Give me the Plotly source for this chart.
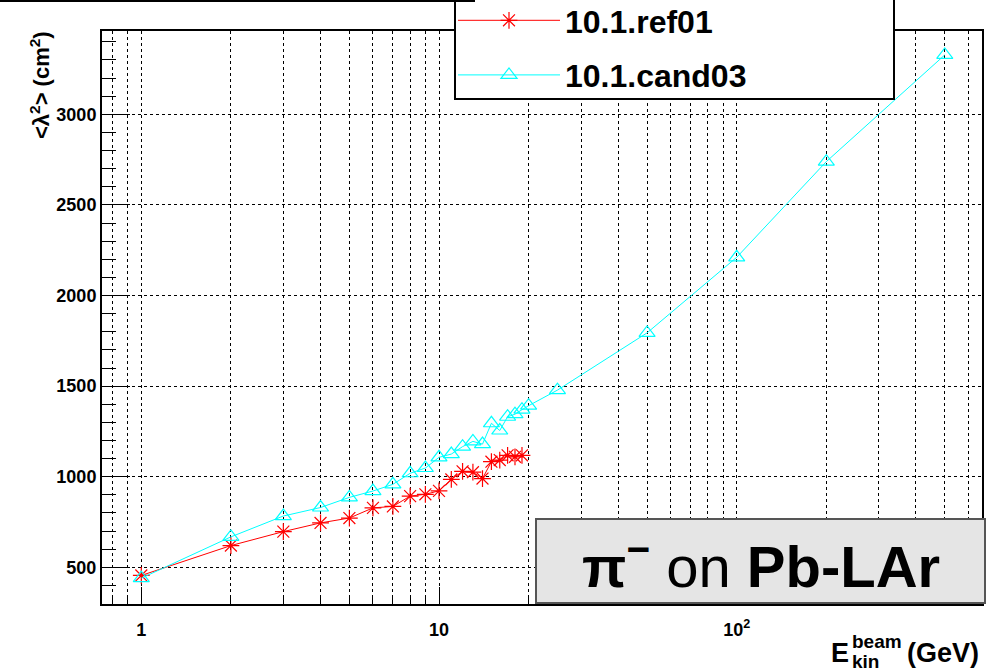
import plotly.graph_objects as go

# ---------------- data ----------------
energy_ref = [1, 2, 3, 4, 5, 6, 7, 8, 9, 10, 11, 12, 13, 14, 15, 16, 17, 18, 19]
lambda2_ref = [455, 620, 697, 745, 772, 828, 836, 893, 903, 922, 985, 1030, 1025, 990,
               1083, 1092, 1118, 1110, 1118]

energy_cand = [1, 2, 3, 4, 5, 6, 7, 8, 9, 10, 11, 12, 13, 14, 15, 16, 17, 18, 19, 20,
               25, 50, 100, 200, 500]
lambda2_cand = [440, 668, 783, 830, 886, 921, 958, 1019, 1048, 1107, 1125, 1166, 1195, 1180,
                1295, 1255, 1331, 1345, 1370, 1392, 1478, 1794, 2211, 2739, 3328]

series_names = ["10.1.ref01", "10.1.cand03"]
series_colors = ["#ff0000", "#00ffff"]

x_major = [1, 10, 100]
x_major_text = ["1", "10", "10<sup>2</sup>"]
x_minor = [0.8, 0.9, 2, 3, 4, 5, 6, 7, 8, 9, 20, 30, 40, 50, 60, 70, 80, 90,
           200, 300, 400, 500, 600]
y_major = [500, 1000, 1500, 2000, 2500, 3000]

W, H = 1002, 671
L, R, T, B = 102, 20, 31, 67
PW, PH = W - L - R, H - T - B


def px(xp):
    return (xp - L) / PW


def py(yp):
    return (H - B - yp) / PH


FONT = "Liberation Sans"

fig = go.Figure()
fig.add_trace(go.Scatter(
    x=energy_ref, y=lambda2_ref, mode="lines+markers", name=series_names[0],
    line=dict(color=series_colors[0], width=1),
    marker=dict(symbol="asterisk-open", size=14, color=series_colors[0],
                line=dict(color=series_colors[0], width=1.2)),
    legendgroup="a",
))
fig.add_trace(go.Scatter(
    x=energy_cand, y=lambda2_cand, mode="lines+markers", name=series_names[1],
    line=dict(color=series_colors[1], width=1),
    marker=dict(symbol="triangle-up-open", size=14, color=series_colors[1],
                line=dict(color=series_colors[1], width=1.2)),
    legendgroup="b",
))

grid = dict(showgrid=True, gridcolor="#000000", gridwidth=1, griddash="dot")

fig.update_xaxes(
    type="log", range=[-0.132, 2.824],
    tickmode="array", tickvals=x_major, ticktext=x_major_text,
    ticks="inside", ticklen=17, tickwidth=1, tickcolor="#000000",
    showline=True, linecolor="#000000", linewidth=2, mirror=True,
    zeroline=False, ticklabelstandoff=8, automargin=False,
    tickfont=dict(family=FONT, size=18, color="#000000", weight="bold"),
    minor=dict(tickmode="array", tickvals=x_minor, ticks="inside", ticklen=8,
               tickwidth=1, tickcolor="#000000", showgrid=True,
               gridcolor="#000000", gridwidth=1, griddash="dot"),
    **grid,
)
fig.update_yaxes(
    range=[297.5, 3460],
    tickmode="array", tickvals=y_major,
    ticks="inside", ticklen=28, tickwidth=1, tickcolor="#000000",
    showline=True, linecolor="#000000", linewidth=2, mirror=True,
    zeroline=False, automargin=False,
    tickfont=dict(family=FONT, size=18, color="#000000", weight="bold"),
    minor=dict(dtick=100, tick0=0, ticks="inside", ticklen=14, tickwidth=1,
               tickcolor="#000000", showgrid=False),
    **grid,
)

shapes = [
    # legend box
    dict(type="rect", xref="paper", yref="paper", layer="above",
         x0=px(455), x1=px(894), y0=py(99), y1=py(-3),
         fillcolor="white", line=dict(color="#000000", width=2)),
    # line at very top (clipped title box)
    dict(type="line", xref="paper", yref="paper", layer="above",
         x0=px(-2), x1=px(475), y0=py(1), y1=py(1),
         line=dict(color="#000000", width=2)),
    # label box
    dict(type="rect", xref="paper", yref="paper", layer="above",
         x0=px(536), x1=px(985), y0=py(603), y1=py(519),
         fillcolor="#e5e5e5", line=dict(color="#555555", width=2)),
]

annotations = [
    dict(xref="paper", yref="paper", x=px(761), y=py(562), xanchor="center", yanchor="middle",
         text="<b>π</b><sup><b>−</b></sup> on <b>Pb-LAr</b>", showarrow=False,
         font=dict(family=FONT, size=58, color="#000000")),
    # x title
    dict(xref="paper", yref="paper", x=px(829), y=py(653), xanchor="left", yanchor="middle",
         text="<b>E</b>", showarrow=False, font=dict(family=FONT, size=27, color="#000000")),
    dict(xref="paper", yref="paper", x=px(850), y=py(641), xanchor="left", yanchor="middle",
         text="<b>beam</b>", showarrow=False, font=dict(family=FONT, size=19, color="#000000")),
    dict(xref="paper", yref="paper", x=px(850), y=py(661), xanchor="left", yanchor="middle",
         text="<b>kin</b>", showarrow=False, font=dict(family=FONT, size=19, color="#000000")),
    dict(xref="paper", yref="paper", x=px(981), y=py(653), xanchor="right", yanchor="middle",
         text="<b>(GeV)</b>", showarrow=False, font=dict(family=FONT, size=27, color="#000000")),
    # y title
    dict(xref="paper", yref="paper", x=px(40), y=py(29), xanchor="center", yanchor="top",
         text="<b>&lt;λ<sup>2</sup>&gt; (cm<sup>2</sup>)</b>", textangle=-90, showarrow=False,
         font=dict(family=FONT, size=22, color="#000000")),
]

fig.update_layout(
    width=W, height=H,
    margin=dict(l=L, r=R, t=T, b=B, pad=0, autoexpand=False),
    paper_bgcolor="white", plot_bgcolor="white",
    font=dict(family=FONT, color="#000000"),
    showlegend=True,
    legend=dict(x=px(453), y=py(-7), xanchor="left", yanchor="top",
                bgcolor="rgba(0,0,0,0)", borderwidth=0,
                font=dict(family=FONT, size=32, color="#000000", weight="bold"),
                itemwidth=102, tracegroupgap=10),
    shapes=shapes,
    annotations=annotations,
)

fig.write_html(
    "out.html",
    config={"displayModeBar": False},
    post_script="document.body.style.margin='0';document.body.style.padding='0';"
                "document.documentElement.style.overflow='hidden';",
)
